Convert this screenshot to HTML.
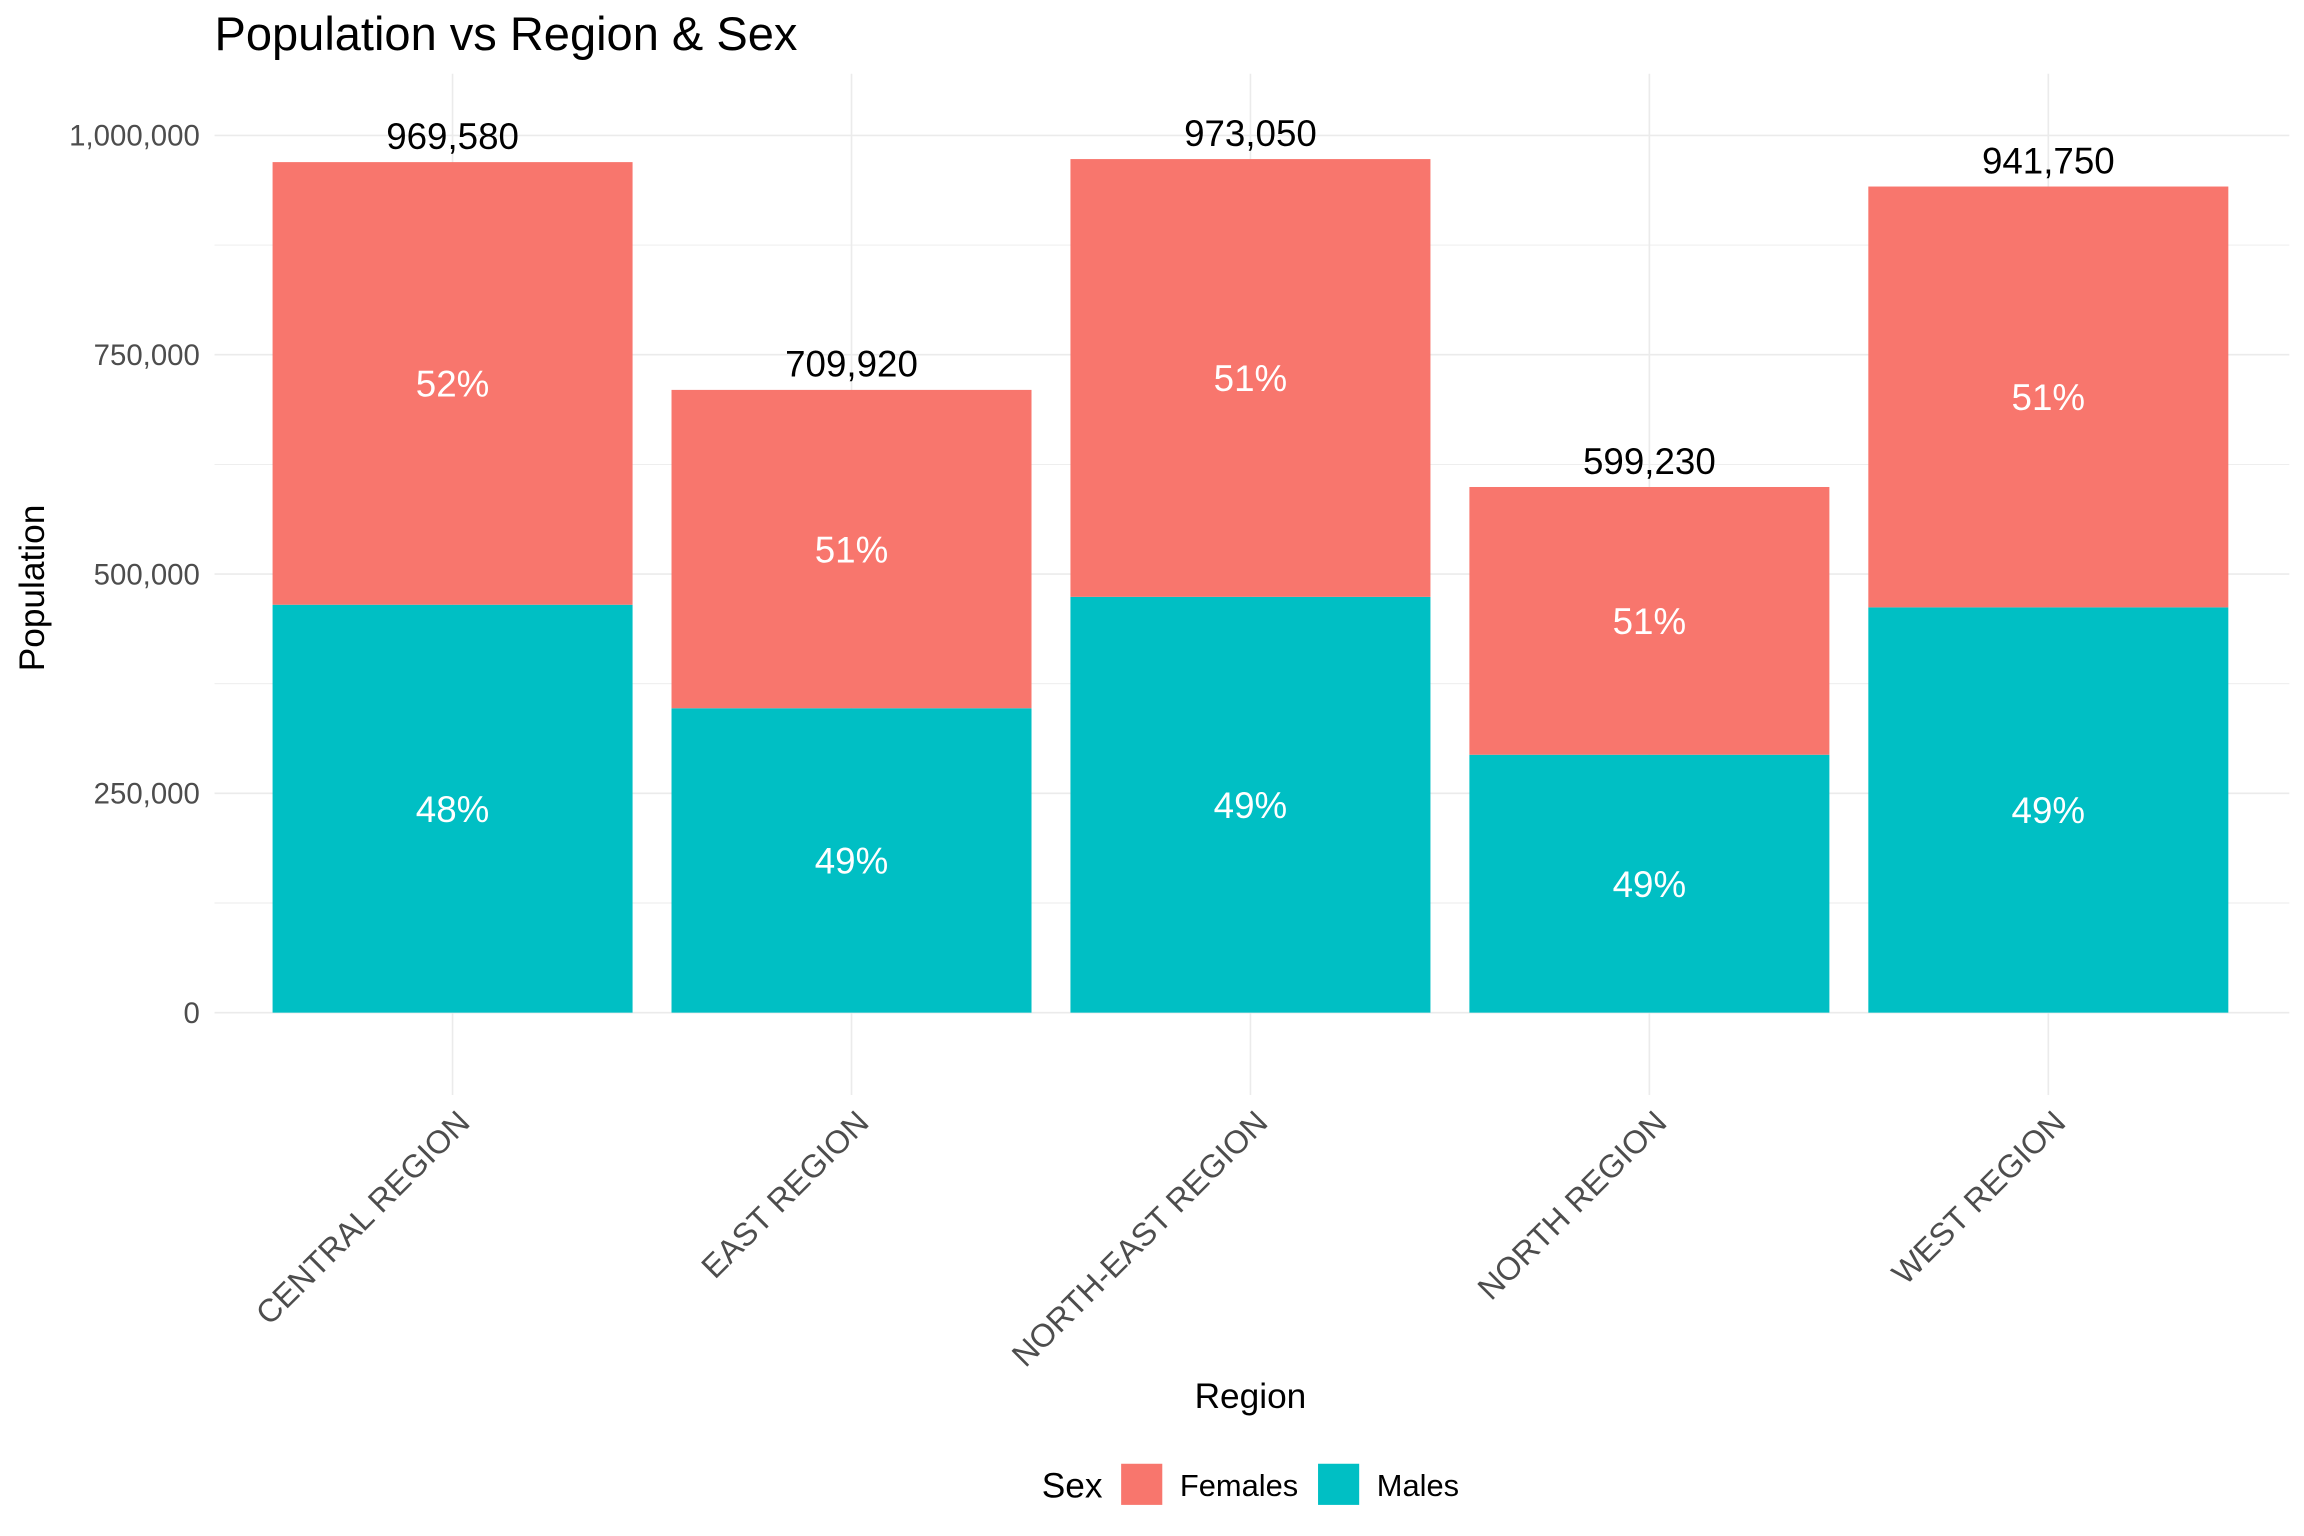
<!DOCTYPE html>
<html><head><meta charset="utf-8"><style>
html,body{margin:0;padding:0;background:#fff;}
svg{display:block;font-family:"Liberation Sans",Arial,sans-serif;}
</style></head><body>
<svg id="chart" width="2304" height="1536" viewBox="0 0 1568 1045">
<text x="146" y="34" font-size="32" fill="#000">Population vs Region &amp; Sex</text>
<g id="grid"></g>
<g id="bars"></g>
<g id="labels"></g>
<text transform="translate(30,400) rotate(-90)" text-anchor="middle" font-size="24" fill="#000">Population</text>
<text x="851" y="958" text-anchor="middle" font-size="24" fill="#000">Region</text>
<g>
<text x="709" y="1019" font-size="24" fill="#000">Sex</text>
<rect x="763" y="996" width="28" height="28" fill="#F8766D"/>
<text x="803" y="1018" font-size="21" fill="#000">Females</text>
<rect x="897" y="996" width="28" height="28" fill="#00BFC4"/>
<text x="937" y="1018" font-size="21" fill="#000">Males</text>
</g>
</svg>
<script>
const categories = ["CENTRAL REGION","EAST REGION","NORTH-EAST REGION","NORTH REGION","WEST REGION"];
const totals = [969580, 709920, 973050, 599230, 941750];
const males = [465000, 347000, 474000, 294000, 462000];
const yTicks = [0, 250000, 500000, 750000, 1000000];
const yTickLabels = ["0","250,000","500,000","750,000","1,000,000"];

const NS = "http://www.w3.org/2000/svg";
const plotL = 146, plotR = 1558, plotT = 50, plotB = 745;
const y0 = 689, pxPerUnit = 597 / 1000000;
function yScale(v){ return y0 - v * pxPerUnit; }
const step = (1394 - 308) / 4;
function xScale(i){ return 308 + i * step; }
const barW = 245;
function mk(tag, attrs, parent){
  const e = document.createElementNS(NS, tag);
  for (const k in attrs) e.setAttribute(k, attrs[k]);
  parent.appendChild(e); return e;
}
function fmt(n){ return n.toLocaleString("en-US"); }
const grid = document.getElementById("grid");
const bars = document.getElementById("bars");
const labels = document.getElementById("labels");
for (let i = 0; i < yTicks.length - 1; i++) {
  const v = (yTicks[i] + yTicks[i+1]) / 2;
  const l = mk("line", {x1:plotL, x2:plotR, y1:yScale(v), y2:yScale(v), stroke:"#ebebeb", "stroke-width":0.6}, grid);
  
  
}
yTicks.forEach((v, i) => {
  const l = mk("line", {x1:plotL, x2:plotR, y1:yScale(v), y2:yScale(v), stroke:"#ebebeb", "stroke-width":1.1}, grid);
  
  
  const t = mk("text", {x:136, y:yScale(v)+7, "text-anchor":"end", "font-size":"20", fill:"#4d4d4d"}, grid);
  t.textContent = yTickLabels[i];
  
  
});
categories.forEach((c, i) => {
  const x = xScale(i);
  const l = mk("line", {x1:x, x2:x, y1:plotT, y2:plotB, stroke:"#ebebeb", "stroke-width":1.1}, grid);
  
  
  const m = males[i], f = totals[i] - males[i];
  const rm = mk("rect", {x:x-barW/2, y:yScale(m), width:barW, height:yScale(0)-yScale(m), fill:"#00BFC4"}, bars);
  
  
  const rf = mk("rect", {x:x-barW/2, y:yScale(totals[i]), width:barW, height:yScale(m)-yScale(totals[i]), fill:"#F8766D"}, bars);
  
  
  const pm = Math.round(m / totals[i] * 100), pf = Math.round(f / totals[i] * 100);
  const tm = mk("text", {x:x, y:yScale(m/2)+9, "text-anchor":"middle", "font-size":"25", fill:"#fff"}, labels);
  tm.textContent = pm + "%";
  
  
  const tf = mk("text", {x:x, y:yScale(m + f/2)+9, "text-anchor":"middle", "font-size":"25", fill:"#fff"}, labels);
  tf.textContent = pf + "%";
  
  
  const tt = mk("text", {x:x, y:yScale(totals[i])-9, "text-anchor":"middle", "font-size":"25", fill:"#000"}, labels);
  tt.textContent = fmt(totals[i]);
  
  
  const xl = mk("text", {transform:"translate("+(x+13)+",765) rotate(-45)", "text-anchor":"end", "font-size":"22", fill:"#4d4d4d"}, labels);
  xl.textContent = c;
  
  
});
</script>
</body></html>
